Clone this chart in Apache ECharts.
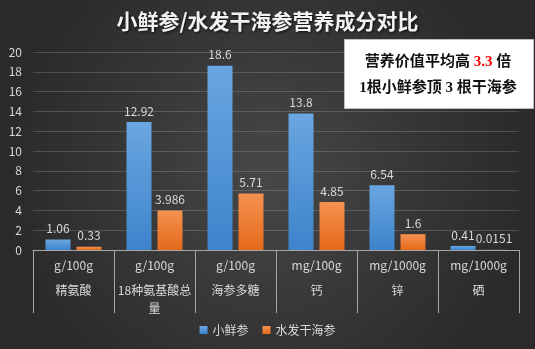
<!DOCTYPE html>
<html><head><meta charset="utf-8">
<script src="https://cdn.jsdelivr.net/npm/echarts@6/dist/echarts.min.js"></script>
<style>html,body{margin:0;padding:0;background:#333;}#c{width:535px;height:349px;}</style>
</head><body><div id="c"></div>
<script>
const units = ['g/100g','g/100g','g/100g','mg/100g','mg/1000g','mg/1000g'];
const names = ['精氨酸','18种氨基酸总量','海参多糖','钙','锌','硒'];
const fresh = [1.06, 12.92, 18.6, 13.8, 6.54, 0.41];
const dried = [0.33, 3.986, 5.71, 4.85, 1.6, 0.0151];
const seriesNames = ['小鲜参','水发干海参'];
const yTicks = {min:0, max:20, interval:2};

const cats = units.map((u,i)=>u+'|'+names[i]);
function fmtName(s){
  const a = s.slice(0,7), b = s.slice(7);
  return '{n|'+a+'}' + (b ? '\n{m|'+b+'}' : '');
}

const chart = echarts.init(document.getElementById('c'));
const grad = (a,b)=>new echarts.graphic.LinearGradient(0,0,0,1,[{offset:0,color:a},{offset:1,color:b}]);
const lab = {fontSize:12,color:'#d9d9d9',fontFamily:'Noto Sans CJK SC'};
chart.setOption({
  backgroundColor: new echarts.graphic.RadialGradient(0.5,0.5,0.75,[{offset:0,color:'#474747'},{offset:1,color:'#2a2a2a'}]),
  animation:false,
  title:{text:'小鲜参/水发干海参营养成分对比',left:'center',top:6,
    textStyle:{color:'#f2f2f2',fontSize:21,fontWeight:'bold',fontFamily:'Noto Sans CJK SC',
      textShadowColor:'rgba(0,0,0,0.8)',textShadowBlur:3,textShadowOffsetX:1,textShadowOffsetY:1}},
  legend:{bottom:8,left:'center',itemWidth:8,itemHeight:8,itemGap:14,icon:'rect',
    textStyle:{color:'#d9d9d9',fontSize:12,fontFamily:'Noto Sans CJK SC'}},
  grid:{left:33,right:16,top:52,bottom:99,containLabel:false},
  xAxis:{type:'category',data:cats,
    axisLine:{lineStyle:{color:'#a6a6a6',width:1}},
    axisTick:{show:true,length:63,lineStyle:{color:'#a6a6a6'}},
    axisLabel:{margin:2,interval:0,color:'#d9d9d9',fontFamily:'Noto Sans CJK SC',
      formatter:v=>{const p=v.split('|');return '{u|'+p[0]+'}\n'+fmtName(p[1]);},
      rich:{u:Object.assign({lineHeight:26},lab),
            n:Object.assign({lineHeight:24},lab),
            m:Object.assign({lineHeight:12},lab)}}},
  yAxis:{type:'value',min:yTicks.min,max:yTicks.max,interval:yTicks.interval,
    axisLine:{show:false},axisTick:{show:false},
    axisLabel:{color:'#d9d9d9',fontSize:12,margin:11,fontFamily:'Noto Sans CJK SC'},
    splitLine:{lineStyle:{color:'rgba(255,255,255,0.17)',width:1}}},
  series:[
    {name:seriesNames[0],type:'bar',data:fresh,barWidth:25,barGap:'24%',
      itemStyle:{color:grad('#6aa6e1','#3d84cb')},
      label:{show:true,position:'top',distance:5,color:'#d9d9d9',fontSize:12,fontFamily:'Noto Sans CJK SC'}},
    {name:seriesNames[1],type:'bar',data:dried,barWidth:25,
      itemStyle:{color:grad('#f59250','#e4691a')},
      label:{show:true,position:'top',distance:5,color:'#d9d9d9',fontSize:12,fontFamily:'Noto Sans CJK SC'}}
  ],
  color:['#5b9bd5','#ed7d31'],
  graphic:[
    {type:'rect',left:344,top:39,z:100,shape:{width:189,height:69},style:{fill:'#ffffff',stroke:'#bfbfbf',lineWidth:1}},
    {type:'text',x:438,y:62,z:101,style:{text:'{a|营养价值平均高 }{r|3.3}{a| 倍}',align:'center',verticalAlign:'middle',
      rich:{a:{fontSize:15,fontWeight:'bold',fill:'#111',fontFamily:'Liberation Serif, Noto Sans CJK SC'},
            r:{fontSize:15,fontWeight:'bold',fill:'#ff0000',fontFamily:'Liberation Serif, Noto Sans CJK SC'}}}},
    {type:'text',x:438,y:88,z:101,style:{text:'1根小鲜参顶 3 根干海参',align:'center',verticalAlign:'middle',
      fontSize:15,fontWeight:'bold',fill:'#111',fontFamily:'Liberation Serif, Noto Sans CJK SC'}}
  ]
});
</script></body></html>
